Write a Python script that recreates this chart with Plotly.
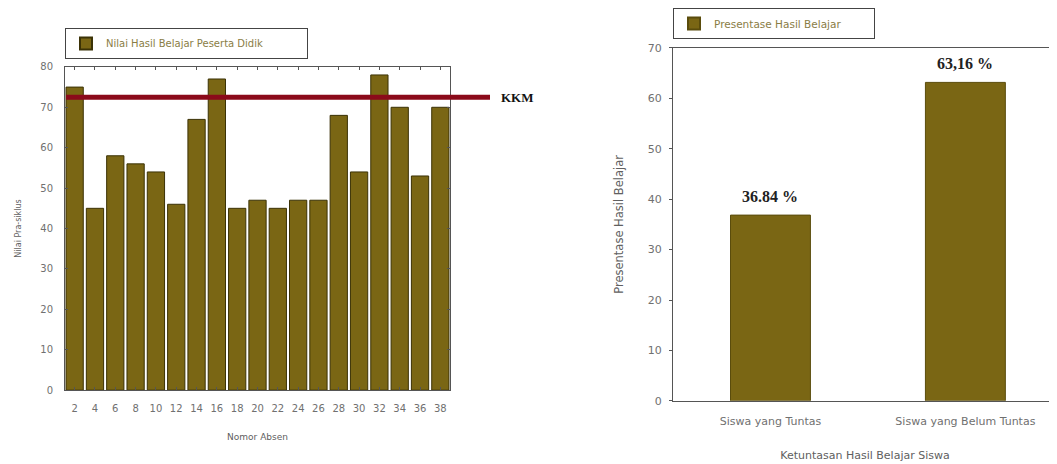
import plotly.graph_objects as go

# ---- data ----
nomor_absen = [2, 4, 6, 8, 10, 12, 14, 16, 18, 20, 22, 24, 26, 28, 30, 32, 34, 36, 38]
nilai_pra_siklus = [75, 45, 58, 56, 54, 46, 67, 77, 45, 47, 45, 47, 47, 68, 54, 78, 70, 53, 70]
kkm_value = 72.5

kategori = ["Siswa yang Tuntas", "Siswa yang Belum Tuntas"]
presentase = [36.84, 63.16]
presentase_labels = ["36.84 %", "63,16 %"]

# page body has an 8px margin; size the figure so it ends at the window edge
OFF = 8
W, H = 1057 - OFF, 464 - OFF
BAR = "#7a6614"
EDGE = "#3b3206"
SANS = "DejaVu Sans, Liberation Sans, Arial"
GRAY = "#707070"

def px_x(p):
    return (p - OFF) / W

def px_y(p):
    return 1 - (p - OFF) / H

fig = go.Figure()

fig.add_trace(go.Bar(
    x=nomor_absen, y=nilai_pra_siklus, width=1.7,
    marker=dict(color=BAR, line=dict(color=EDGE, width=1)),
    name="Nilai Hasil Belajar Peserta Didik", xaxis="x", yaxis="y",
    legend="legend",
))
fig.add_trace(go.Bar(
    x=kategori, y=presentase, width=0.41,
    marker=dict(color=BAR, line=dict(color="#5a4c0c", width=1)),
    name="Presentase Hasil Belajar", xaxis="x2", yaxis="y2",
    legend="legend2",
))

axis_common = dict(showgrid=False, zeroline=False, showline=True,
                   linecolor="#555555", linewidth=1,
                   ticklen=3, tickcolor="#555555", automargin=False)

fig.update_layout(
    width=W, height=H,
    margin=dict(l=0, r=0, t=0, b=0),
    paper_bgcolor="white", plot_bgcolor="white",
    showlegend=True,
    xaxis=dict(domain=[px_x(65), px_x(450)], range=[1.05, 38.95],
               tickmode="array", tickvals=nomor_absen,
               ticks="inside", mirror="ticks", anchor="y",
               tickfont=dict(family=SANS, size=10, color=GRAY), ticklabelstandoff=9,
               title=dict(text="Nomor Absen", font=dict(family=SANS, size=9, color="#606060"), standoff=20),
               **axis_common),
    yaxis=dict(domain=[px_y(390), px_y(66)], range=[0, 80], dtick=10,
               ticks="inside", mirror="ticks", anchor="x",
               tickfont=dict(family=SANS, size=10, color=GRAY), ticklabelstandoff=9,
               title=dict(text="Nilai Pra-siklus", font=dict(family=SANS, size=8, color="#606060"), standoff=17),
               **axis_common),
    xaxis2=dict(domain=[px_x(673), 1.0], range=[-0.5, 1.47],
                ticks="", mirror=True, anchor="y2",
                tickfont=dict(family=SANS, size=11, color=GRAY), ticklabelstandoff=10,
                title=dict(text="Ketuntasan Hasil Belajar Siswa", font=dict(family=SANS, size=11, color="#606060"), standoff=24),
                **axis_common),
    yaxis2=dict(domain=[px_y(400.7), px_y(47)], range=[0, 70], dtick=10,
                ticks="outside", anchor="x2",
                tickfont=dict(family=SANS, size=11, color=GRAY), ticklabelstandoff=5,
                title=dict(text="Presentase Hasil Belajar", font=dict(family=SANS, size=11.5, color="#606060"), standoff=21),
                **axis_common),
    legend=dict(x=px_x(65), y=px_y(28), xanchor="left", yanchor="top",
                orientation="h", entrywidth=196, entrywidthmode="pixels",
                bordercolor="#444444", borderwidth=1, bgcolor="white",
                font=dict(family=SANS, size=10, color="#8a7d45"),
                itemsizing="constant"),
    legend2=dict(x=px_x(673), y=px_y(7), xanchor="left", yanchor="top",
                 orientation="h", entrywidth=155, entrywidthmode="pixels",
                 bordercolor="#444444", borderwidth=1, bgcolor="white",
                 font=dict(family=SANS, size=10.5, color="#8a7d45"),
                 itemsizing="constant"),
)

# KKM line extending beyond plot
fig.add_shape(type="line", xref="paper", yref="y",
              x0=px_x(66), x1=px_x(490), y0=kkm_value, y1=kkm_value,
              line=dict(color="#8b0a1a", width=5), layer="above")
fig.add_annotation(xref="paper", yref="y", x=px_x(499), y=kkm_value,
                   xanchor="left", yanchor="middle", text="<b>KKM</b>",
                   showarrow=False,
                   font=dict(family="Liberation Serif, Times New Roman", size=13, color="#111111"))

for k, v, lab in zip(kategori, presentase, presentase_labels):
    fig.add_annotation(xref="x2", yref="y2", x=k, y=v, yanchor="bottom",
                       yshift=8, text=f"<b>{lab}</b>", showarrow=False,
                       font=dict(family="Liberation Serif, Times New Roman", size=16, color="#222222"))

fig.write_html("out.html")
